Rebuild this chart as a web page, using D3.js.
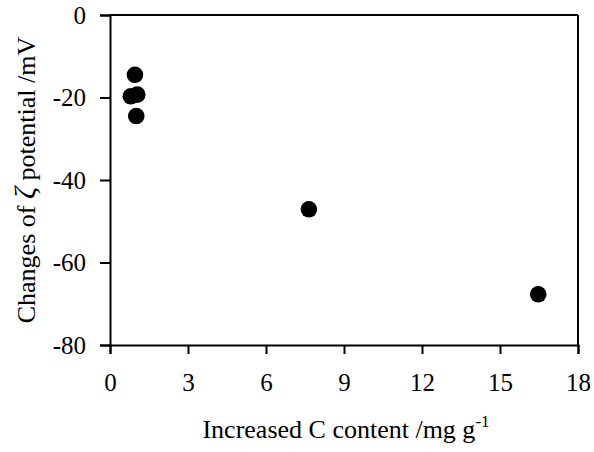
<!DOCTYPE html>
<html>
<head>
<meta charset="utf-8">
<script src="https://cdn.jsdelivr.net/npm/d3@7"></script>
<style>
  html, body { margin: 0; padding: 0; background: #fff; }
  svg text { font-family: "Times New Roman", Times, "Liberation Serif", "DejaVu Serif", serif; fill: #000; }
</style>
</head>
<body>
<svg id="chart" width="594" height="452"></svg>
<script>
// Increase in carbon content (mg/g) vs change in zeta potential (mV)
const carbonIncrease = [0.96, 0.80, 1.05, 1.01, 7.65, 16.47];
const zetaChange     = [-14.5, -19.7, -19.3, -24.5, -47.1, -67.7];
const xTicks = [0, 3, 6, 9, 12, 15, 18];
const yTicks = [0, -20, -40, -60, -80];

const serif = '"Times New Roman", Times, "Liberation Serif", "DejaVu Serif", serif';
const svg = d3.select("#chart");
const margin = { left: 110, right: 16, top: 15, bottom: 107 };
const W = 594, H = 452;

const x = d3.scaleLinear().domain([0, 18]).range([margin.left, W - margin.right]);
const y = d3.scaleLinear().domain([-80, 0]).range([H - margin.bottom, margin.top]);

// frame: top and right borders
svg.append("line").attr("x1", x(0)).attr("x2", x(18)).attr("y1", y(0)).attr("y2", y(0))
  .attr("stroke", "#000").attr("stroke-width", 2);
svg.append("line").attr("x1", x(18)).attr("x2", x(18)).attr("y1", y(0)).attr("y2", y(-80))
  .attr("stroke", "#000").attr("stroke-width", 2);

const xAxis = svg.append("g").attr("transform", `translate(0,${y(-80)})`)
  .call(d3.axisBottom(x).tickValues(xTicks).tickSize(9).tickPadding(19).tickFormat(d3.format("d")));
const yAxis = svg.append("g").attr("transform", `translate(${x(0)},0)`)
  .call(d3.axisLeft(y).tickValues(yTicks).tickSize(10).tickPadding(14).tickFormat(d => d === 0 ? "0" : "-" + Math.abs(d)));

[xAxis, yAxis].forEach(g => {
  g.attr("font-family", serif).attr("font-size", 25);
  g.select(".domain").attr("stroke", "#000").attr("stroke-width", 2);
  g.selectAll(".tick line").attr("stroke", "#000").attr("stroke-width", 2);
  g.selectAll(".tick text").attr("font-size", 25).style("font-size", "25px").style("font-family", serif).attr("fill", "#000");
});

// data points
svg.append("g").selectAll("circle")
  .data(carbonIncrease.map((c, i) => ({ c, z: zetaChange[i] })))
  .join("circle")
  .attr("cx", d => x(d.c))
  .attr("cy", d => y(d.z))
  .attr("r", 8.3)
  .attr("fill", "#000");

// x-axis title with superscript
const xt = svg.append("text")
  .attr("x", (x(0) + x(18)) / 2 + 2)
  .attr("y", 438)
  .attr("text-anchor", "middle")
  .style("font-size", "26px");
xt.append("tspan").text("Increased C content /mg g");
xt.append("tspan").style("font-size", "17px").attr("dy", -11).text("-1");

// y-axis title with italic zeta
const yt = svg.append("text")
  .attr("transform", `translate(35,${(y(0) + y(-80)) / 2}) rotate(-90)`)
  .attr("text-anchor", "middle")
  .style("font-size", "26px");
yt.append("tspan").text("Changes of ");
yt.append("tspan").style("font-style", "italic").style("font-size", "30px").text("ζ");
yt.append("tspan").text(" potential /mV");
</script>
</body>
</html>
